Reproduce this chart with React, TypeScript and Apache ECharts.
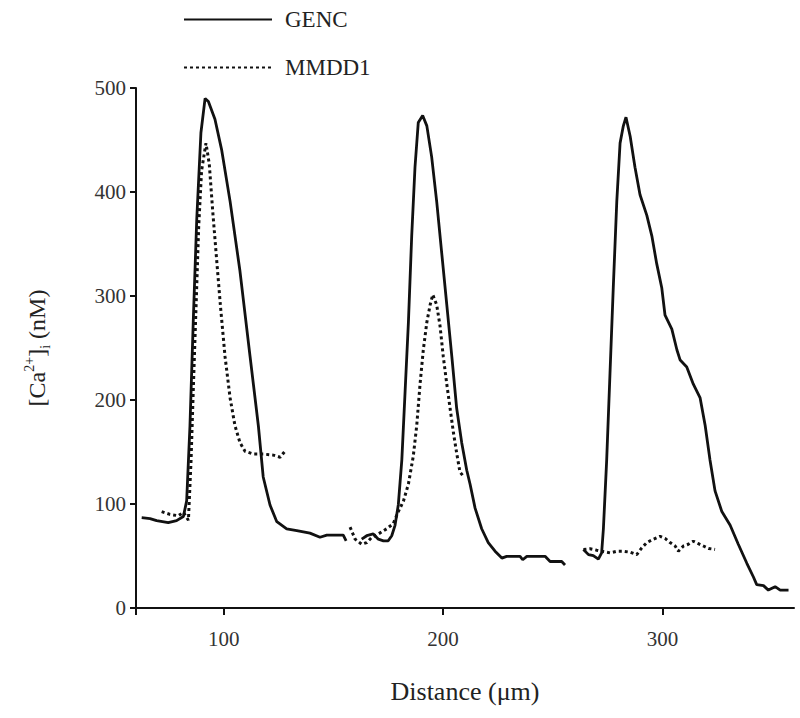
import React, { useEffect, useRef } from "react";
import * as echarts from "echarts";

// Distance (µm), [Ca2+]i (nM)
const gencSegment1: number[][] = [
  [62.6, 86.8], [66.4, 86], [69.4, 84], [74.7, 82], [78.5, 84], [81.6, 88], [83.1, 103],
  [84.6, 175], [86.1, 275], [87.7, 374], [89.6, 457], [91.5, 490], [93, 487], [96, 470],
  [99.1, 440], [102.9, 391], [107.4, 324], [112, 242], [115.8, 175], [118, 126], [121.1, 99],
  [124.2, 83], [128.7, 76], [133.3, 74.5], [139.3, 72], [143.9, 68], [147, 70], [154.5, 70],
  [155.8, 64.6],
];
const gencSegment2: number[][] = [
  [162.9, 66.2], [165.2, 69.5], [168.2, 71.2], [170.5, 66.2], [172.8, 64.6], [175, 64.6],
  [176.6, 69.5], [178.1, 79.5], [179.6, 99.3], [181.2, 142.4], [182.7, 208.6], [184.2, 274.8],
  [185.7, 357.6], [187.2, 423.8], [188.7, 466.9], [190.7, 473.5], [192.6, 463.6], [194.8, 433.8],
  [197.1, 390.7], [199.4, 341], [201.7, 291.4], [204, 241.7], [206.2, 192], [208.5, 159],
  [210.8, 132.5], [212.3, 119.2], [214.6, 96], [217.6, 76.2], [220.6, 62.9], [223.7, 54.6],
  [226.8, 48], [229, 49.7], [235.1, 49.7], [236.3, 46.4], [238.2, 49.7], [246.5, 49.7],
  [248.8, 44.7], [254.1, 44.7], [255.6, 41.4],
];
const gencSegment3: number[][] = [
  [264, 56.3], [266.3, 51.3], [268.5, 50.3], [270.8, 47], [272.3, 53], [273.1, 76.2],
  [274.6, 142.4], [276.1, 225.2], [277.6, 308], [279.2, 390.7], [280.7, 447], [282.2, 463.6],
  [283.4, 471.9], [285.3, 453.6], [287.5, 423.8], [289.8, 397.4], [292.9, 377.5], [295.2, 357.6],
  [297.4, 331.1], [299.7, 308], [301.2, 281.5], [304.3, 268.2], [306.6, 248.3], [308.1, 238.4],
  [311.1, 231.8], [314.1, 215.2], [317.2, 202], [319.5, 175.5], [321.7, 142.4], [324, 112.6],
  [327.1, 92.7], [330.9, 79.5], [334.6, 61.3], [338.5, 43], [341.5, 29.8], [343, 22.5],
  [346.1, 21.5], [348.3, 17.2], [351.4, 20.5], [353.7, 17.2], [357.5, 17.2],
];

const mmddSegment1: number[][] = [
  [71.7, 92.7], [75.5, 90], [79.3, 88.7], [81.6, 92], [83.9, 84.4], [85.1, 142], [86.1, 208.6],
  [87.4, 291], [88.6, 367.5], [89.9, 420.5], [91.9, 447], [93.4, 427], [95, 381], [96.8, 334],
  [98.6, 288], [100.6, 241.7], [102.9, 202], [105.1, 175.5], [107.4, 159], [109.7, 150.7],
  [113.5, 148], [118.1, 148], [122.6, 147], [125.7, 145], [127.9, 150.7],
];
const mmddSegment2: number[][] = [
  [157.6, 77.8], [159.9, 66.2], [162.9, 61.3], [165.2, 62.9], [167.5, 67.9], [170.5, 71.2],
  [174.3, 76.2], [177.3, 81.1], [179.6, 92.7], [181.9, 102.6], [184.2, 119.2], [186.4, 145.7],
  [188, 175.5], [189.5, 215.2], [191, 248.3], [192.6, 274.8], [194.1, 291.4], [195.3, 301.3],
  [197.1, 291.4], [198.6, 271.5], [200.1, 241.7], [201.7, 215.2], [203.2, 192], [204.7, 168.9],
  [206.2, 149], [207.7, 130.8], [209.6, 125.8],
];
const mmddSegment3: number[][] = [
  [264, 56.3], [267, 57], [270.1, 55.6], [276.1, 53], [279.2, 54.6], [282.2, 54.6], [285.3, 53.6],
  [288.3, 51.3], [290.6, 57.9], [292.9, 62.9], [295.9, 66.2], [298.9, 68.9], [301.2, 66.9],
  [303.5, 62.9], [305.8, 59.6], [307.3, 54.6], [309.6, 59.6], [311.8, 61.3], [314.1, 64.2],
  [316.4, 61.9], [318.7, 59.6], [321, 57.3], [324, 56.3],
];

const seriesNames = ["GENC", "MMDD1"];
const xTickLabels = [100, 200, 300];

const joinSegments = (segs: number[][][]) => {
  const out: any[] = [];
  segs.forEach((s, i) => {
    if (i > 0) out.push([s[0][0] - 0.1, "-"]);
    s.forEach((p) => out.push(p));
  });
  return out;
};

const FONT = "'Liberation Serif', 'Times New Roman', serif";

export default function App() {
  const ref = useRef<HTMLDivElement>(null);
  useEffect(() => {
    if (!ref.current) return;
    const chart = echarts.init(ref.current, null, { renderer: "svg" });
    chart.setOption({
      animation: false,
      backgroundColor: "#ffffff",
      textStyle: { fontFamily: FONT },
      legend: {
        orient: "vertical",
        left: 183,
        top: 8,
        padding: 0,
        itemWidth: 88,
        itemHeight: 10,
        itemGap: 25,
        itemStyle: { opacity: 0 },
        textStyle: { fontFamily: FONT, fontSize: 23, color: "#222", padding: [0, 0, 0, 8] },
        data: seriesNames,
      },
      grid: { left: 136, top: 88, width: 658, height: 520 },
      xAxis: {
        type: "value",
        min: 60,
        max: 360,
        name: "Distance (μm)",
        nameLocation: "middle",
        nameGap: 70,
        nameTextStyle: { fontFamily: FONT, fontSize: 26, color: "#222" },
        axisLine: { show: true, lineStyle: { color: "#111", width: 2 } },
        axisTick: { show: true, length: 7, lineStyle: { color: "#111", width: 2 }, customValues: [60, ...xTickLabels] },
        axisLabel: { fontFamily: FONT, fontSize: 21, color: "#333", margin: 20, customValues: xTickLabels },
        splitLine: { show: false },
      },
      yAxis: {
        type: "value",
        min: 0,
        max: 500,
        interval: 100,
        name: "[Ca{sup|2+}]{sub|i} (nM)",
        nameLocation: "middle",
        nameRotate: 90,
        nameGap: 84,
        nameTextStyle: {
          fontFamily: FONT,
          fontSize: 24,
          color: "#222",
          lineHeight: 30,
          rich: {
            sup: { fontFamily: FONT, fontSize: 14, color: "#222", verticalAlign: "top", lineHeight: 30 },
            sub: { fontFamily: FONT, fontSize: 14, color: "#222", verticalAlign: "bottom", lineHeight: 30 },
          },
        },
        axisLine: { show: true, lineStyle: { color: "#111", width: 2 } },
        axisTick: { show: true, length: 6, lineStyle: { color: "#111", width: 2 } },
        axisLabel: { fontFamily: FONT, fontSize: 21, color: "#333", margin: 10 },
        splitLine: { show: false },
      },
      series: [
        {
          name: seriesNames[0],
          type: "line",
          symbol: "none",
          connectNulls: false,
          data: joinSegments([gencSegment1, gencSegment2, gencSegment3]),
          lineStyle: { color: "#111", width: 2.8, type: "solid" },
          itemStyle: { color: "#111" },
        },
        {
          name: seriesNames[1],
          type: "line",
          symbol: "none",
          connectNulls: false,
          data: joinSegments([mmddSegment1, mmddSegment2, mmddSegment3]),
          lineStyle: { color: "#111", width: 3, type: [3, 3] },
          itemStyle: { color: "#111" },
        },
      ],
    });
    return () => chart.dispose();
  }, []);
  return (
    <div
      ref={ref}
      style={{ position: "absolute", left: 0, top: 0, width: 800, height: 718, background: "#fff" }}
    />
  );
}
